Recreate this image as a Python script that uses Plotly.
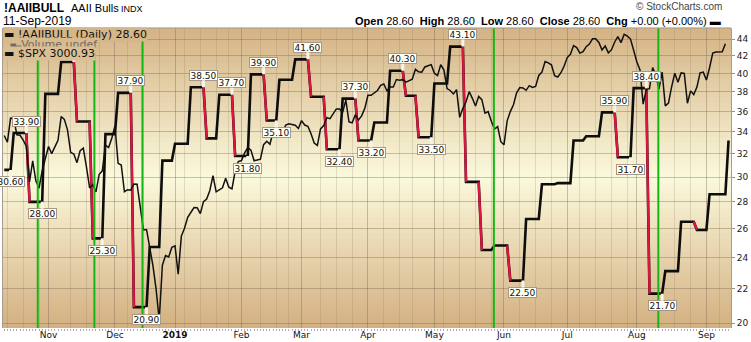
import numpy as np
import pandas as pd
import plotly.graph_objects as go

# ---------------- data ----------------
holidays = ["2018-11-22", "2018-12-05", "2018-12-25", "2019-01-01", "2019-01-21",
            "2019-02-18", "2019-04-19", "2019-05-27", "2019-07-04", "2019-09-02"]
first_day = "2018-10-12"
last_day = "2019-09-12"

aaii_dates = ["2018-10-10", "2018-10-17", "2018-10-24", "2018-10-31", "2018-11-07", "2018-11-14",
              "2018-11-21", "2018-11-28", "2018-12-04", "2018-12-12", "2018-12-19", "2018-12-26",
              "2019-01-02", "2019-01-09", "2019-01-16", "2019-01-23", "2019-01-30", "2019-02-06",
              "2019-02-13", "2019-02-20", "2019-02-27", "2019-03-06", "2019-03-13", "2019-03-20",
              "2019-03-27", "2019-04-03", "2019-04-10", "2019-04-17", "2019-04-24", "2019-05-01",
              "2019-05-08", "2019-05-15", "2019-05-22", "2019-05-29", "2019-06-05", "2019-06-12",
              "2019-06-19", "2019-06-26", "2019-07-03", "2019-07-10", "2019-07-17", "2019-07-24",
              "2019-07-31", "2019-08-07", "2019-08-14", "2019-08-21", "2019-08-28", "2019-09-04",
              "2019-09-12"]
aaii_values = [30.6, 33.9, 28.0, 37.8, 41.3, 35.0,
               25.3, 33.8, 37.9, 20.9, 24.7, 31.4,
               32.9, 38.5, 33.4, 37.7, 31.8, 39.9,
               35.1, 39.3, 41.6, 37.5, 32.4, 37.3,
               33.2, 34.9, 40.3, 37.6, 33.5, 38.9,
               43.1, 29.6, 24.5, 24.8, 22.5, 26.7,
               29.4, 29.5, 33.2, 33.6, 35.9, 31.7,
               38.4, 21.7, 23.1, 26.5, 25.9, 28.6,
               33.2]

# S&P 500 daily closes, 2018-10-12 .. 2019-09-11 (trading days)
spx_close = [
    2767.13, 2750.79, 2809.92, 2809.21, 2768.78, 2767.78, 2755.88, 2740.69, 2656.10, 2705.57,
    2658.69, 2641.25, 2682.63, 2711.74,
    2740.37, 2723.06, 2738.31, 2755.45, 2813.89, 2806.83, 2781.01, 2726.22, 2722.18, 2701.58,
    2730.20, 2736.27, 2690.73, 2641.89, 2649.93, 2632.56, 2673.45, 2682.17, 2743.79, 2737.80,
    2760.17,
    2790.37, 2700.06, 2695.95, 2633.08, 2637.72, 2636.78, 2651.07, 2650.54, 2599.95, 2545.94,
    2546.16, 2506.96, 2467.42, 2416.62, 2351.10, 2467.70, 2488.83, 2485.74, 2506.85,
    2510.03, 2447.89, 2531.94, 2549.69, 2574.41, 2584.96, 2596.64, 2596.26, 2582.61, 2610.30,
    2616.10, 2635.96, 2670.71, 2632.90, 2638.70, 2642.33, 2664.76, 2643.85, 2640.00, 2681.05,
    2704.10,
    2706.53, 2724.87, 2737.70, 2731.61, 2706.05, 2707.88, 2709.80, 2744.73, 2753.03, 2745.73,
    2775.60, 2779.76, 2784.70, 2774.88, 2792.67, 2796.11, 2793.90, 2792.38, 2784.49,
    2803.69, 2792.81, 2789.65, 2771.45, 2748.93, 2743.07, 2783.30, 2791.52, 2810.92, 2808.48,
    2822.48, 2832.94, 2832.57, 2824.23, 2854.88, 2800.71, 2798.36, 2818.46, 2805.37, 2815.44,
    2834.40,
    2867.19, 2867.24, 2873.40, 2879.39, 2892.74, 2895.77, 2878.20, 2888.21, 2888.32, 2907.41,
    2905.58, 2907.06, 2900.45, 2905.03, 2907.97, 2933.68, 2927.25, 2926.17, 2939.88, 2943.03,
    2945.83,
    2923.73, 2917.52, 2945.64, 2932.47, 2884.05, 2879.42, 2870.72, 2881.40, 2811.87, 2834.41,
    2850.96, 2876.32, 2859.53, 2840.23, 2864.36, 2856.27, 2822.24, 2826.06, 2802.39, 2783.02,
    2788.86, 2752.06,
    2744.45, 2803.27, 2826.15, 2843.49, 2873.34, 2886.73, 2885.72, 2879.84, 2891.64, 2886.98,
    2889.67, 2917.75, 2926.46, 2954.18, 2950.46, 2945.35, 2917.38, 2913.78, 2924.92, 2941.76,
    2964.33, 2973.01, 2995.82, 2990.41, 2975.95, 2979.63, 2993.07, 2999.91, 3013.77, 3014.30,
    3004.04, 2984.42, 2995.11, 2976.61, 2985.03, 3005.47, 3019.56, 3003.67, 3025.86, 3020.97,
    3013.18, 2980.38,
    2953.56, 2932.05, 2844.74, 2881.77, 2883.98, 2938.09, 2918.65, 2882.70, 2926.32, 2840.60,
    2847.60, 2888.68, 2923.65, 2900.51, 2924.43, 2922.95, 2847.11, 2878.38, 2869.16, 2887.94,
    2924.58, 2926.46,
    2906.27, 2937.78, 2976.00, 2978.71, 2978.43, 2979.39, 3000.93]

# readings that carry a value flag (peaks above, troughs below)
label_dates = ["2018-10-10", "2018-10-17", "2018-10-24", "2018-11-07", "2018-11-21", "2018-12-04",
               "2018-12-12", "2019-01-09", "2019-01-23", "2019-01-30", "2019-02-06", "2019-02-13",
               "2019-02-27", "2019-03-13", "2019-03-20", "2019-03-27", "2019-04-10", "2019-04-24",
               "2019-05-08", "2019-06-05", "2019-07-17", "2019-07-24", "2019-07-31", "2019-08-07"]
label_kind = ["low", "high", "low", "high", "low", "high",
              "low", "high", "high", "low", "high", "low",
              "high", "low", "high", "low", "high", "low",
              "high", "low", "high", "low", "high", "low"]

# user-drawn green marker lines (trading-day position)
green_marks = [10.6, 28.5, 43.7, 154.8, 206.8]

month_text = ["Nov", "Dec", "<b>2019</b>", "Feb", "Mar", "Apr", "May", "Jun", "Jul", "Aug", "Sep"]
y_ticks = [20, 22, 24, 26, 28, 30, 32, 34, 36, 38, 40, 42, 44]

# ---------------- build ----------------
cal = pd.bdate_range(first_day, last_day)
cal = cal[~cal.isin(pd.to_datetime(holidays))]
n = len(cal)
xi = np.arange(n)

rd = pd.to_datetime(aaii_dates)
pos = np.searchsorted(rd.values, cal.values, side="right") - 1
aaii_daily = np.array(aaii_values)[pos]

rx, ry = [], []
for i in range(1, n):
    if aaii_daily[i] < aaii_daily[i - 1]:
        rx += [i - 1, i, None]
        ry += [aaii_daily[i - 1], aaii_daily[i], None]

mstart = [i for i in range(1, n) if cal[i].month != cal[i - 1].month]
weekly = [i for i in range(1, n) if cal[i].weekday() < cal[i - 1].weekday()]
weekly = [w for w in weekly if min(abs(w - m) for m in mstart) > 2]

W, H = 751, 342
L, R, T, B = 2, 18, 28, 14
PPD = 3.176
x0 = -0.39
x1 = x0 + (W - L - R) / PPD

FONT = "DejaVu Sans"
HFONT = "Liberation Sans"

fig = go.Figure()

fig.add_trace(go.Scatter(x=xi[:len(spx_close)], y=spx_close, xaxis="x2", yaxis="y2",
                         mode="lines", line=dict(color="#111111", width=1.5),
                         hoverinfo="skip", showlegend=False))
fig.add_trace(go.Scatter(x=xi, y=aaii_daily, mode="lines",
                         line=dict(color="#0d0d0d", width=2.6),
                         hoverinfo="skip", showlegend=False))
fig.add_trace(go.Scatter(x=rx, y=ry, mode="lines",
                         line=dict(color="#dc1440", width=2.3),
                         hoverinfo="skip", showlegend=False))

# background gradient bands
top_c = np.array([212, 179, 133])
mid_c = np.array([251, 249, 220])
bot_c = np.array([211, 176, 129])


def bgcol(ypix):
    t = (ypix - T) / (H - T - B)
    t = min(max(t, 0), 1)
    if t < 0.5:
        c = top_c + (mid_c - top_c) * (t / 0.5)
    else:
        c = mid_c + (bot_c - mid_c) * ((t - 0.5) / 0.5)
    return "rgb(%d,%d,%d)" % tuple(np.round(c))


shapes = []
nb = 60
for k in range(nb):
    yp_top = T + k * (H - T - B) / nb
    shapes.append(dict(type="rect", xref="paper", yref="paper", x0=0, x1=1,
                       y0=1 - (k + 1) / nb, y1=1 - k / nb + 0.001,
                       fillcolor=bgcol(yp_top + 2.5), line=dict(width=0), layer="below"))
for g in green_marks:
    shapes.append(dict(type="line", xref="x", yref="paper", x0=g, x1=g, y0=0, y1=1,
                       line=dict(color="#14b814", width=2), layer="above"))
shapes.append(dict(type="line", xref="paper", yref="paper", x0=0, x1=1, y0=1, y1=1,
                   line=dict(color="#a89c90", width=1), layer="above"))

annotations = []
for d, kind in zip(label_dates, label_kind):
    k = aaii_dates.index(d)
    run_end = int(np.where(pos == k)[0][-1])
    v = aaii_values[k]
    annotations.append(dict(x=run_end, y=np.log10(v), xref="x", yref="y",
                            text="%.2f" % v, showarrow=True, arrowhead=0, arrowwidth=3,
                            arrowcolor="#f7f3e6", ax=0, ay=-12 if kind == "high" else 12,
                            font=dict(family=FONT, size=9, color="#111"),
                            bgcolor="#fffff6", bordercolor="#a8988a", borderwidth=1,
                            borderpad=0, width=27, height=9))


def px2paper_x(p):
    return (p - L) / (W - L - R)


def px2paper_y(p):
    return (H - B - p) / (H - T - B)


# legend block inside the plot (opaque, drawn over the flags)
annotations.append(dict(xref="paper", yref="paper", x=px2paper_x(2), y=px2paper_y(34.5),
                        xanchor="left", yanchor="middle", showarrow=False,
                        text="<b>▬</b> !AAIIBULL (Daily) 28.60", bgcolor=bgcol(34.5),
                        borderpad=0, font=dict(family=FONT, size=11, color="#111")))
annotations.append(dict(xref="paper", yref="paper", x=px2paper_x(2), y=px2paper_y(44),
                        xanchor="left", yanchor="middle", showarrow=False,
                        text="<span style='font-size:7px'>▂▆▄</span>Volume undef",
                        bgcolor=bgcol(44), borderpad=0,
                        font=dict(family=FONT, size=11, color="#6e6a66")))
annotations.append(dict(xref="paper", yref="paper", x=px2paper_x(2), y=px2paper_y(53.5),
                        xanchor="left", yanchor="middle", showarrow=False,
                        text="<b>▬</b> $SPX 3000.93", bgcolor=bgcol(53.5), borderpad=0,
                        font=dict(family=FONT, size=11, color="#111")))

# header
annotations.append(dict(xref="paper", yref="paper", x=px2paper_x(1), y=px2paper_y(8),
                        xanchor="left", yanchor="middle", showarrow=False,
                        text="<b>!AAIIBULL</b>", font=dict(family=HFONT, size=12, color="#000")))
annotations.append(dict(xref="paper", yref="paper", x=px2paper_x(68), y=px2paper_y(8),
                        xanchor="left", yanchor="middle", showarrow=False,
                        text="AAII Bulls", font=dict(family=HFONT, size=11, color="#000")))
annotations.append(dict(xref="paper", yref="paper", x=px2paper_x(118), y=px2paper_y(8.5),
                        xanchor="left", yanchor="middle", showarrow=False,
                        text="INDX", font=dict(family=HFONT, size=9, color="#000")))
annotations.append(dict(xref="paper", yref="paper", x=px2paper_x(0), y=px2paper_y(21.5),
                        xanchor="left", yanchor="middle", showarrow=False,
                        text="11-Sep-2019", font=dict(family=HFONT, size=12, color="#000")))
annotations.append(dict(xref="paper", yref="paper", x=px2paper_x(725), y=px2paper_y(21.5),
                        xanchor="right", yanchor="middle", showarrow=False,
                        text="<b>Open</b> 28.60  <b>High</b> 28.60  <b>Low</b> 28.60  "
                             "<b>Close</b> 28.60  <b>Chg</b> +0.00 (+0.00%) <b>▬</b>",
                        font=dict(family=HFONT, size=11, color="#000")))
annotations.append(dict(xref="paper", yref="paper", x=px2paper_x(726), y=px2paper_y(6),
                        xanchor="right", yanchor="middle", showarrow=False,
                        text="© StockCharts.com", font=dict(family=HFONT, size=10, color="#444")))

grid_major = "rgba(120,100,80,0.38)"
grid_minor = "rgba(140,120,100,0.22)"

fig.update_layout(
    width=W, height=H, margin=dict(l=L, r=R, t=T, b=B),
    paper_bgcolor="white", plot_bgcolor="rgba(0,0,0,0)",
    showlegend=False, shapes=shapes, annotations=annotations,
    xaxis=dict(range=[x0, x1], tickmode="array", tickvals=mstart, ticktext=month_text,
               showgrid=True, gridcolor=grid_major, gridwidth=1, ticks="",
               tickfont=dict(family=FONT, size=9, color="#111"), zeroline=False,
               showline=False,
               minor=dict(tickmode="array", tickvals=weekly, showgrid=True,
                          gridcolor=grid_minor, gridwidth=1, ticks="")),
    xaxis2=dict(range=[x0, x1], overlaying="x", anchor="y2", side="bottom",
                tickmode="linear", tick0=0, dtick=1, ticks="outside", ticklen=2,
                tickwidth=1, tickcolor="#bfa6ae", showticklabels=False,
                showgrid=False, zeroline=False, showline=False),
    yaxis=dict(type="log", range=[1.2950, 1.6569], side="right", tickmode="array",
               tickvals=y_ticks, ticktext=[str(v) for v in y_ticks], showgrid=True,
               gridcolor=grid_major, gridwidth=1, ticks="outside", ticklen=3,
               tickcolor="#9c8f84", showline=True, linecolor="#a89c90", mirror=True,
               tickfont=dict(family=FONT, size=9, color="#222"), zeroline=False),
    yaxis2=dict(type="log", range=[3.36819, 3.48327], overlaying="y", side="left",
                visible=False, showgrid=False),
)

fig.write_html("out.html")
